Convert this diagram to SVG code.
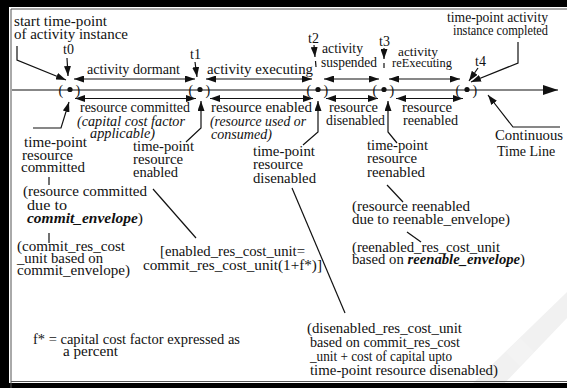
<svg xmlns="http://www.w3.org/2000/svg" width="567" height="388" viewBox="0 0 567 388">
<defs>
<style>
text{font-family:"Liberation Serif","Times New Roman",serif;font-size:14px;fill:#111}
.it{font-style:italic}
.bi{font-style:italic;font-weight:bold}
.sm{font-size:13px}
.big{font-size:14.5px}
.ln{fill:none;stroke:#111;stroke-width:1.2}
</style>
<marker id="ah" viewBox="0 0 10 7" refX="10" refY="3.5" markerWidth="10" markerHeight="7" markerUnits="userSpaceOnUse" orient="auto-start-reverse"><path d="M0,0 L10,3.5 L0,7 z" fill="#111"/></marker>
<marker id="big" viewBox="0 0 15 10" refX="15" refY="5" markerWidth="15" markerHeight="10" markerUnits="userSpaceOnUse" orient="auto"><path d="M0,0 L15,5 L0,10 z" fill="#111"/></marker>
</defs>
<rect width="567" height="388" fill="#fff"/>
<polygon points="468,388 567,292 567,318 500,388" fill="#f1f1f1"/>
<polygon points="520,338 534,352 520,366 506,352" fill="#f3f3f3"/>
<!-- frame -->
<rect x="0" y="0" width="567" height="7" fill="#000"/>
<rect x="0" y="0" width="9" height="388" fill="#000"/>
<rect x="0" y="383" width="567" height="5" fill="#000"/>
<path d="M11,388 V9 H567 M11,381.5 H567" fill="none" stroke="#555" stroke-width="1"/>

<g id="connectors">
<!-- main time line -->
<line class="ln" x1="12" y1="90" x2="558" y2="90" marker-end="url(#big)"/>
<!-- upper activity arrows -->
<line class="ln" x1="74" y1="79" x2="195" y2="79" marker-start="url(#ah)" marker-end="url(#ah)"/>
<line class="ln" x1="206" y1="79" x2="312" y2="79" marker-start="url(#ah)" marker-end="url(#ah)"/>
<line class="ln" x1="324" y1="79" x2="379" y2="79" marker-start="url(#ah)" marker-end="url(#ah)"/>
<line class="ln" x1="389" y1="79" x2="460" y2="79" marker-start="url(#ah)" marker-end="url(#ah)"/>
<!-- lower resource arrows -->
<line class="ln" x1="75" y1="98.5" x2="196" y2="98.5" marker-start="url(#ah)" marker-end="url(#ah)"/>
<line class="ln" x1="210" y1="98.5" x2="313" y2="98.5" marker-start="url(#ah)" marker-end="url(#ah)"/>
<line class="ln" x1="326" y1="98.5" x2="378" y2="98.5" marker-start="url(#ah)" marker-end="url(#ah)"/>
<line class="ln" x1="396" y1="98.5" x2="463" y2="98.5" marker-start="url(#ah)" marker-end="url(#ah)"/>
<!-- time label arrows -->
<line class="ln" x1="67" y1="58" x2="68" y2="76" marker-end="url(#ah)"/>
<line class="ln" x1="195" y1="62" x2="197" y2="77" marker-end="url(#ah)"/>
<line class="ln" x1="314" y1="45" x2="315" y2="57" marker-end="url(#ah)"/>
<line class="ln" x1="315.5" y1="61" x2="316" y2="67"/>
<line class="ln" x1="384" y1="48" x2="384" y2="59" marker-end="url(#ah)"/>
<line class="ln" x1="384" y1="63" x2="384" y2="68"/>
<line class="ln" x1="478" y1="68" x2="469" y2="81" marker-end="url(#ah)"/>
<!-- label connectors above -->
<path class="ln" d="M17,46 V60 L66,80" marker-end="url(#ah)"/>
<path class="ln" d="M518,42 V63 L471,82" marker-end="url(#ah)"/>
<!-- label connectors below -->
<path class="ln" d="M33,128 H61 L69,102" marker-end="url(#ah)"/>
<path class="ln" d="M186,142 L201,128 V101" marker-end="url(#ah)"/>
<path class="ln" d="M303,145 L318,132 V101" marker-end="url(#ah)"/>
<path class="ln" d="M397,143 L388,132 V101" marker-end="url(#ah)"/>
<path class="ln" d="M560,127 H513 L488,95" marker-end="url(#ah)"/>
<!-- plain connecting lines -->
<line class="ln" x1="49" y1="177" x2="49" y2="185"/>
<line class="ln" x1="49" y1="233" x2="49" y2="243"/>
<line class="ln" x1="153" y1="189" x2="196" y2="238"/>
<line class="ln" x1="292" y1="188" x2="345" y2="313"/>
<line class="ln" x1="387" y1="185" x2="403" y2="202"/>
<line class="ln" x1="407" y1="232" x2="421" y2="242"/>
</g>

<g id="start-label">
<text x="14" y="26" textLength="93" lengthAdjust="spacingAndGlyphs">start time-point</text>
<text x="14" y="39" textLength="114" lengthAdjust="spacingAndGlyphs">of activity instance</text>
</g>
<g id="completed-label">
<text x="447" y="22" textLength="101" lengthAdjust="spacingAndGlyphs">time-point activity</text>
<text x="453" y="35" textLength="95" lengthAdjust="spacingAndGlyphs">instance completed</text>
</g>

<g id="t0">
<text x="63" y="54">t0</text>
<text x="58.5" y="95">(</text><circle cx="70" cy="89.5" r="2.6" fill="#111"/><text x="75.5" y="95">)</text>
</g>
<g id="t1">
<text x="190" y="59">t1</text>
<text x="188.5" y="95">(</text><circle cx="200" cy="89.5" r="2.6" fill="#111"/><text x="205.5" y="95">)</text>
</g>
<g id="t2">
<text x="308" y="43">t2</text>
<text x="306.5" y="95">(</text><circle cx="318" cy="89.5" r="2.6" fill="#111"/><text x="323.5" y="95">)</text>
</g>
<g id="t3">
<text x="379" y="46">t3</text>
<text x="372.5" y="95">(</text><circle cx="384" cy="89.5" r="2.6" fill="#111"/><text x="389.5" y="95">)</text>
</g>
<g id="t4">
<text x="475" y="66">t4</text>
<text x="455.5" y="95">(</text><circle cx="467" cy="89.5" r="2.6" fill="#111"/><text x="472.5" y="95">)</text>
</g>

<g id="activity-labels">
<text x="87" y="74" textLength="93" lengthAdjust="spacingAndGlyphs">activity dormant</text>
<text x="207" y="74" textLength="106" lengthAdjust="spacingAndGlyphs">activity executing</text>
<text x="322" y="53" textLength="41" lengthAdjust="spacingAndGlyphs">activity</text>
<text x="321" y="67" textLength="56" lengthAdjust="spacingAndGlyphs">suspended</text>
<text x="398" y="56" class="sm" textLength="40" lengthAdjust="spacingAndGlyphs">activity</text>
<text x="392" y="67" class="sm" textLength="60" lengthAdjust="spacingAndGlyphs">reExecuting</text>
</g>

<g id="resource-labels">
<text x="80" y="112" textLength="110" lengthAdjust="spacingAndGlyphs">resource committed</text>
<text x="77" y="126" class="it" textLength="108" lengthAdjust="spacingAndGlyphs">(capital cost factor</text>
<text x="90" y="138" class="it" textLength="65" lengthAdjust="spacingAndGlyphs">applicable)</text>
<text x="211" y="112" textLength="101" lengthAdjust="spacingAndGlyphs">resource enabled</text>
<text x="210" y="126" class="it" textLength="96" lengthAdjust="spacingAndGlyphs">(resource used or</text>
<text x="211" y="139" class="it" textLength="61" lengthAdjust="spacingAndGlyphs">consumed)</text>
<text x="329" y="112" textLength="49" lengthAdjust="spacingAndGlyphs">resource</text>
<text x="326" y="125" textLength="59" lengthAdjust="spacingAndGlyphs">disenabled</text>
<text x="402" y="112" textLength="50" lengthAdjust="spacingAndGlyphs">resource</text>
<text x="403" y="125" textLength="55" lengthAdjust="spacingAndGlyphs">reenabled</text>
</g>

<g id="continuous-label">
<text x="495" y="140" class="big" textLength="68" lengthAdjust="spacingAndGlyphs">Continuous</text>
<text x="497" y="156">Time Line</text>
</g>

<g id="committed-point">
<text x="24" y="147" textLength="63" lengthAdjust="spacingAndGlyphs">time-point</text>
<text x="22" y="160" textLength="51" lengthAdjust="spacingAndGlyphs">resource</text>
<text x="21" y="172" textLength="64" lengthAdjust="spacingAndGlyphs">committed</text>
</g>
<g id="committed-note">
<text x="23" y="196" textLength="124" lengthAdjust="spacingAndGlyphs">(resource committed</text>
<text x="27" y="210" textLength="40" lengthAdjust="spacingAndGlyphs">due to</text>
<text x="27" y="223" textLength="116" lengthAdjust="spacingAndGlyphs"><tspan class="bi">commit_envelope</tspan>)</text>
</g>
<g id="committed-cost">
<text x="17" y="251" textLength="108" lengthAdjust="spacingAndGlyphs">(commit_res_cost</text>
<text x="17" y="263" textLength="86" lengthAdjust="spacingAndGlyphs">_unit based on</text>
<text x="17" y="275" textLength="113" lengthAdjust="spacingAndGlyphs">commit_envelope)</text>
</g>

<g id="enabled-point">
<text x="133" y="151" textLength="61" lengthAdjust="spacingAndGlyphs">time-point</text>
<text x="133" y="164" textLength="50" lengthAdjust="spacingAndGlyphs">resource</text>
<text x="133" y="177" textLength="45" lengthAdjust="spacingAndGlyphs">enabled</text>
</g>
<g id="enabled-cost">
<text x="160" y="256" textLength="145" lengthAdjust="spacingAndGlyphs">[enabled_res_cost_unit=</text>
<text x="143" y="270" textLength="179" lengthAdjust="spacingAndGlyphs">commit_res_cost_unit(1+f*)]</text>
</g>

<g id="disenabled-point">
<text x="253" y="156" textLength="62" lengthAdjust="spacingAndGlyphs">time-point</text>
<text x="253" y="169" textLength="50" lengthAdjust="spacingAndGlyphs">resource</text>
<text x="253" y="183" textLength="63" lengthAdjust="spacingAndGlyphs">disenabled</text>
</g>
<g id="disenabled-cost">
<text x="307" y="333" textLength="155" lengthAdjust="spacingAndGlyphs">(disenabled_res_cost_unit</text>
<text x="310" y="347" textLength="150" lengthAdjust="spacingAndGlyphs">based on commit_res_cost</text>
<text x="310" y="361" textLength="142" lengthAdjust="spacingAndGlyphs">_unit + cost of capital upto</text>
<text x="310" y="375" textLength="188" lengthAdjust="spacingAndGlyphs">time-point resource disenabled)</text>
</g>

<g id="reenabled-point">
<text x="367" y="150" textLength="61" lengthAdjust="spacingAndGlyphs">time-point</text>
<text x="367" y="163" textLength="50" lengthAdjust="spacingAndGlyphs">resource</text>
<text x="367" y="177" textLength="58" lengthAdjust="spacingAndGlyphs">reenabled</text>
</g>
<g id="reenabled-note">
<text x="352" y="211" textLength="118" lengthAdjust="spacingAndGlyphs">(resource reenabled</text>
<text x="352" y="224" textLength="158" lengthAdjust="spacingAndGlyphs">due to reenable_envelope)</text>
</g>
<g id="reenabled-cost">
<text x="352" y="252" textLength="148" lengthAdjust="spacingAndGlyphs">(reenabled_res_cost_unit</text>
<text x="352" y="264" textLength="173" lengthAdjust="spacingAndGlyphs">based on <tspan class="bi">reenable_envelope</tspan>)</text>
</g>

<g id="footnote">
<text x="33" y="344" textLength="207" lengthAdjust="spacingAndGlyphs">f* = capital cost factor expressed as</text>
<text x="63" y="356" textLength="55" lengthAdjust="spacingAndGlyphs">a percent</text>
</g>
</svg>
